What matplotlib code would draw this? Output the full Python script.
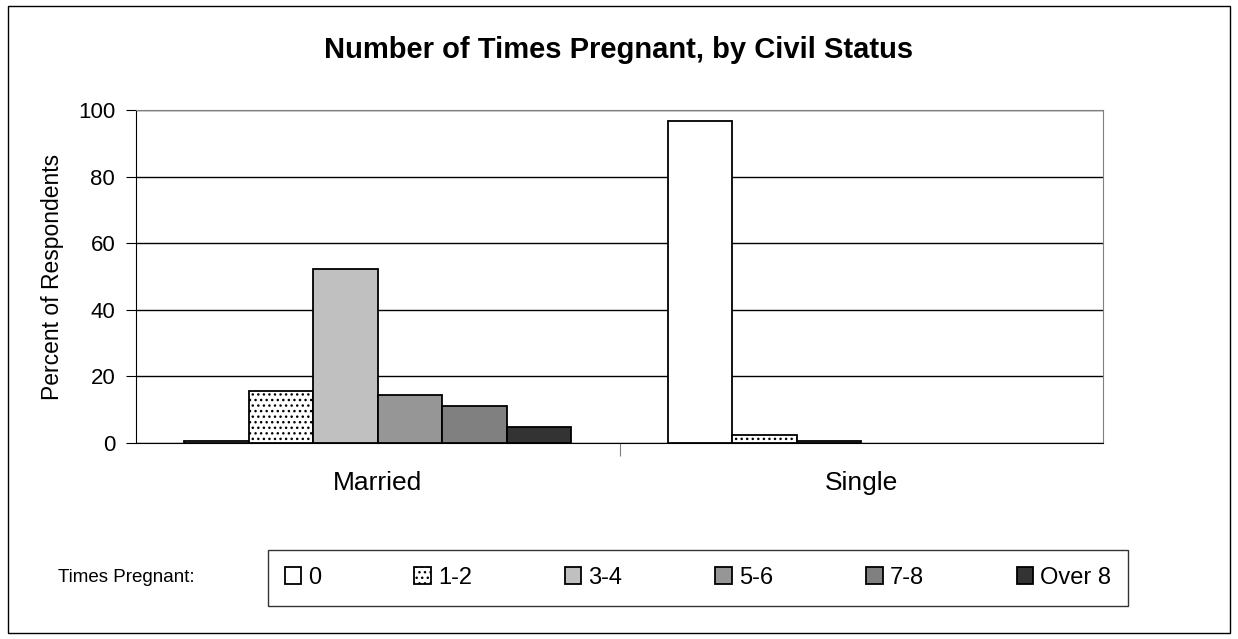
import numpy as np
import matplotlib.pyplot as plt
from matplotlib.patches import Rectangle

plt.rcParams['font.family'] = ['Liberation Sans', 'DejaVu Sans']
plt.rcParams['hatch.color'] = '#6a6a6a'
plt.rcParams['hatch.linewidth'] = 1.0

status = ['Married', 'Single']
groups = ['0', '1-2', '3-4', '5-6', '7-8', 'Over 8']
married = [0.7, 15.7, 52.4, 14.3, 11.1, 4.9]
single = [96.7, 2.3, 0.7, 0.0, 0.0, 0.0]
colors = ['#FFFFFF', '#FFFFFF', '#C0C0C0', '#969696', '#808080', '#333333']
hatches = ['', '...', '', '', '', '']

fig = plt.figure(figsize=(12.38, 6.39), dpi=100)
ax = fig.add_axes([136/1238, 1-443/639, (1103-136)/1238, (443-110)/639])

x = np.arange(len(status))
w = 0.8 / len(groups)
for i, g in enumerate(groups):
    vals = [married[i], single[i]]
    lws = [1.3 if v > 0 else 0 for v in vals]
    ax.bar(x - 0.4 + w*(i+0.5), vals, w, color=colors[i], edgecolor='black',
           linewidth=lws, hatch=hatches[i], label=g, zorder=3)

ax.set_xlim(-0.5, 1.5)
ax.set_ylim(0, 100)
ax.set_yticks(range(0, 101, 20))
ax.yaxis.grid(True, color='black', linewidth=1, zorder=0)
ax.set_xticks([0.5], minor=False)
ax.set_xticks(x, minor=True)
ax.set_xticklabels([''])
ax.set_xticklabels(status, minor=True, fontsize=19)
ax.tick_params(axis='x', which='minor', length=0, pad=20)
ax.tick_params(axis='x', which='major', length=9, color='#808080', direction='out')
ax.tick_params(axis='y', labelsize=16, length=7, direction='out', pad=8)
ax.spines['top'].set_color('#808080')
ax.spines['right'].set_color('#808080')
ax.set_ylabel('Percent of Respondents', fontsize=16.5, labelpad=10)

fig.text(0.5, 1-50/639, 'Number of Times Pregnant, by Civil Status', ha='center', va='center',
         fontsize=21, fontweight='bold')

handles, labels = ax.get_legend_handles_labels()
leg = fig.legend(handles, labels, ncol=6, loc='center',
                 bbox_to_anchor=(268/1238, 1-612/639, 860/1238, 68/639), mode='expand',
                 fontsize=17, frameon=True, fancybox=False, edgecolor='black',
                 handlelength=0.7, handleheight=0.7, handletextpad=0.3, borderaxespad=0,
                 borderpad=0.7)
leg.get_frame().set_linewidth(1)
fig.text(126/1238, 1-578/639, 'Times Pregnant:', ha='center', va='center', fontsize=13.5)

fig.patches.append(Rectangle((8/1238, 6/639), 1222/1238, 627/639, transform=fig.transFigure,
                             fill=False, edgecolor='black', linewidth=1))

fig.savefig('out.png', dpi=100)
